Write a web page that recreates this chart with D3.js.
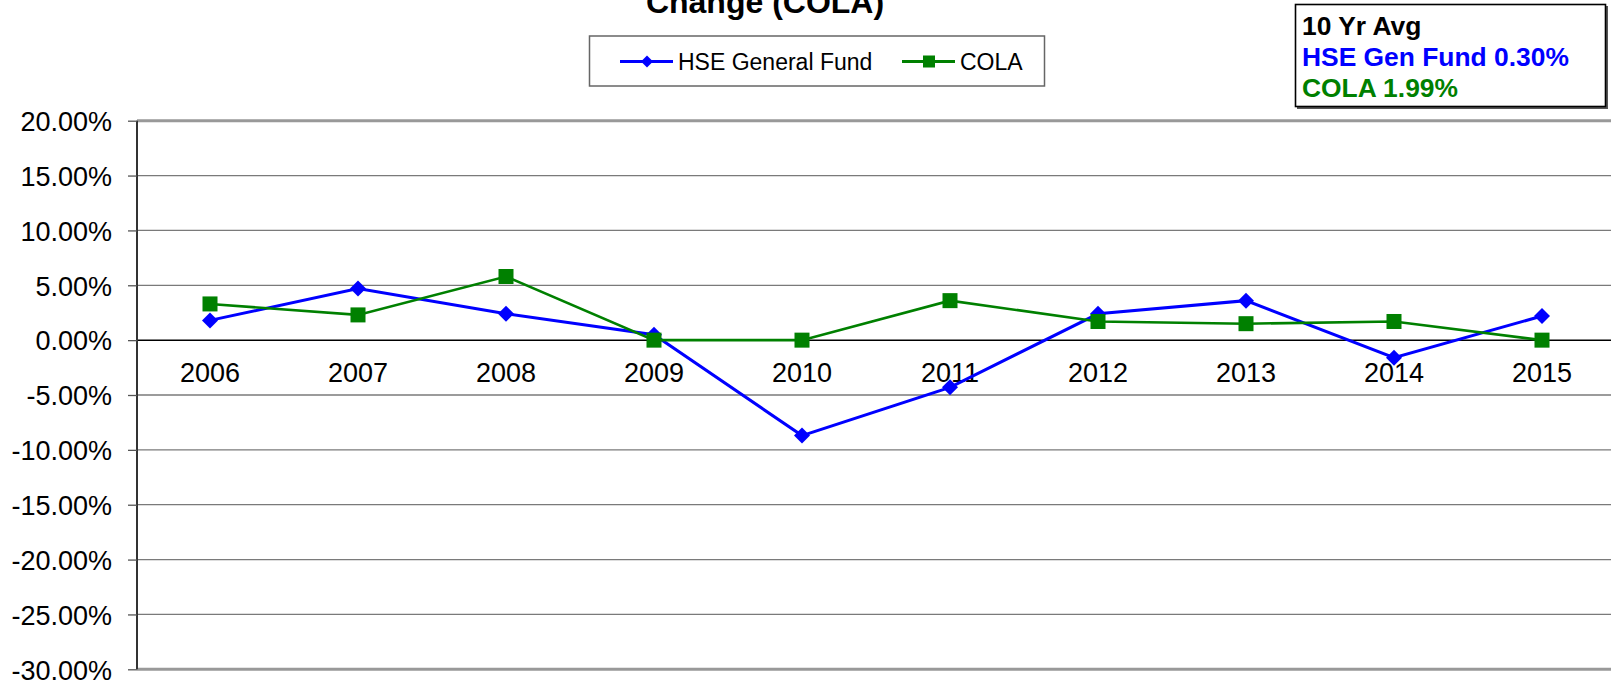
<!DOCTYPE html>
<html>
<head>
<meta charset="utf-8">
<script src="https://cdn.jsdelivr.net/npm/d3@7"></script>
<style>
  html, body { margin: 0; padding: 0; background: #fff; }
  svg { display: block; font-family: "Liberation Sans", Arial, sans-serif; }
</style>
</head>
<body>
<svg id="chart" width="1611" height="682"></svg>
<script>
// Year-over-year change, HSE General Fund vs. cost of living adjustment (percent)
const years = ["2006", "2007", "2008", "2009", "2010", "2011", "2012", "2013", "2014", "2015"];
const hseGeneralFund = [1.8, 4.7, 2.4, 0.5, -8.7, -4.3, 2.4, 3.6, -1.6, 2.2];
const cola = [3.3, 2.3, 5.8, 0.0, 0.0, 3.6, 1.7, 1.5, 1.7, 0.0];
const yTicks = [20, 15, 10, 5, 0, -5, -10, -15, -20, -25, -30];
const avgLines = ["10 Yr Avg", "HSE Gen Fund 0.30%", "COLA 1.99%"];

const BLUE = "#0000ff";
const GREEN = "#008000";

const svg = d3.select("#chart");

const plot = { left: 137, right: 1616, top: 120.7, bottom: 669.3 };

const x = d3.scalePoint().domain(years).range([plot.left - 1, plot.right]).padding(0.5);
const y = d3.scaleLinear().domain([-30, 20]).range([plot.bottom, plot.top]);

// Title (second line of a two-line heading)
svg.append("text")
  .attr("x", 765).attr("y", 13)
  .attr("text-anchor", "middle")
  .attr("font-size", 32).attr("font-weight", "bold")
  .text("Change (COLA)");

// Horizontal gridlines
svg.append("g").selectAll("line")
  .data(yTicks)
  .join("line")
  .attr("x1", plot.left).attr("x2", 1611)
  .attr("y1", d => y(d)).attr("y2", d => y(d))
  .attr("stroke", d => d === 0 ? "#000" : (d === 20 || d === -30) ? "#999" : "#7a7a7a")
  .attr("stroke-width", d => d === 0 ? 1.5 : (d === 20 || d === -30) ? 3 : 1.3);

// Y axis with tick labels (plain hyphen for negatives)
const pct = d3.format(".2f");
const yAxis = d3.axisLeft(y)
  .tickValues(yTicks)
  .tickSize(9)
  .tickPadding(16)
  .tickFormat(d => pct(d).replace("\u2212", "-") + "%");

const gy = svg.append("g")
  .attr("transform", `translate(${plot.left},0)`)
  .call(yAxis);
gy.select(".domain").attr("stroke", "#333").attr("stroke-width", 2)
  .attr("d", `M0,${plot.top}V${plot.bottom}`);
gy.selectAll(".tick line").attr("stroke", "#555").attr("stroke-width", 1.3);
gy.selectAll(".tick text")
  .attr("font-size", 27)
  .attr("font-family", "'Liberation Sans', Arial, sans-serif")
  .attr("fill", "#000")
  .attr("dy", "0.36em");

// Category labels sit just below the zero line
svg.append("g").selectAll("text")
  .data(years)
  .join("text")
  .attr("x", d => x(d))
  .attr("y", y(0) + 42)
  .attr("text-anchor", "middle")
  .attr("font-size", 27)
  .text(d => d);

const line = d3.line()
  .x((d, i) => x(years[i]))
  .y(d => y(d));

// HSE General Fund series
svg.append("path")
  .datum(hseGeneralFund)
  .attr("fill", "none")
  .attr("stroke", BLUE)
  .attr("stroke-width", 3)
  .attr("d", line);

// COLA series
svg.append("path")
  .datum(cola)
  .attr("fill", "none")
  .attr("stroke", GREEN)
  .attr("stroke-width", 2.6)
  .attr("d", line);

const diamond = (cx, cy, r) => `M${cx},${cy - r}L${cx + r},${cy}L${cx},${cy + r}L${cx - r},${cy}Z`;

svg.append("g").selectAll("path")
  .data(hseGeneralFund)
  .join("path")
  .attr("d", (d, i) => diamond(x(years[i]), y(d), 8))
  .attr("fill", BLUE);

svg.append("g").selectAll("rect")
  .data(cola)
  .join("rect")
  .attr("x", (d, i) => x(years[i]) - 7.5)
  .attr("y", d => y(d) - 7.5)
  .attr("width", 15).attr("height", 15)
  .attr("fill", GREEN);

// Legend
const legend = svg.append("g");
legend.append("rect")
  .attr("x", 589.5).attr("y", 36)
  .attr("width", 455).attr("height", 50)
  .attr("fill", "#fff").attr("stroke", "#666").attr("stroke-width", 1.5);

const legendItems = [
  { name: "HSE General Fund", color: BLUE, x0: 620, shape: "diamond" },
  { name: "COLA", color: GREEN, x0: 902, shape: "square" }
];
const ly = 61.5;
legendItems.forEach(it => {
  legend.append("line")
    .attr("x1", it.x0).attr("x2", it.x0 + 53)
    .attr("y1", ly).attr("y2", ly)
    .attr("stroke", it.color).attr("stroke-width", 3);
  const cx = it.x0 + 27;
  if (it.shape === "diamond") {
    legend.append("path").attr("d", diamond(cx, ly, 6)).attr("fill", it.color);
  } else {
    legend.append("rect").attr("x", cx - 6).attr("y", ly - 6)
      .attr("width", 12).attr("height", 12).attr("fill", it.color);
  }
  legend.append("text")
    .attr("x", it.x0 + 58).attr("y", ly)
    .attr("dy", "0.36em")
    .attr("font-size", 23)
    .text(it.name);
});

// Ten-year average box
const avg = svg.append("g");
avg.append("rect")
  .attr("x", 1297).attr("y", 6)
  .attr("width", 311).attr("height", 103)
  .attr("fill", "#555");
avg.append("rect")
  .attr("x", 1295.5).attr("y", 4.5)
  .attr("width", 310).attr("height", 102)
  .attr("fill", "#fff").attr("stroke", "#000").attr("stroke-width", 1.6);
const avgColors = ["#000", BLUE, GREEN];
avg.selectAll("text")
  .data(avgLines)
  .join("text")
  .attr("x", 1302)
  .attr("y", (d, i) => 35 + i * 31)
  .attr("font-size", 26.4)
  .attr("font-weight", "bold")
  .attr("fill", (d, i) => avgColors[i])
  .text(d => d);
</script>
</body>
</html>
